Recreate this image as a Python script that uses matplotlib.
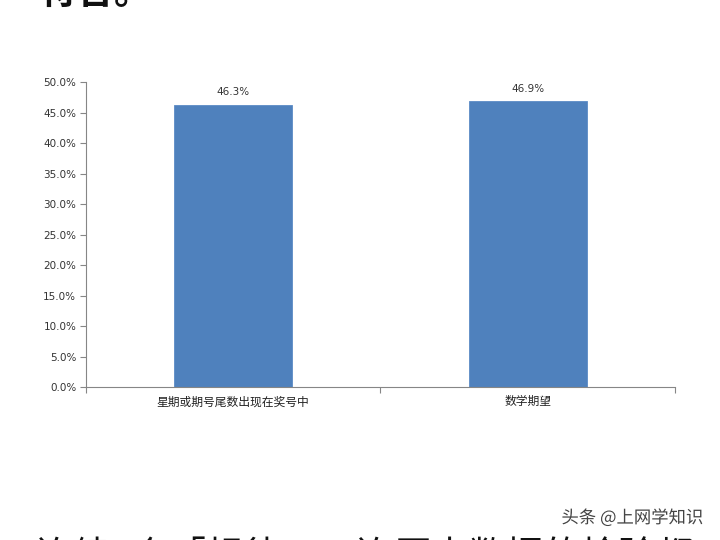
import matplotlib.pyplot as plt
import matplotlib.patheffects as pe
import numpy as np

plt.rcParams['font.family'] = ['Noto Sans CJK SC', 'DejaVu Sans']

# data
categories = ['星期或期号尾数出现在奖号中', '数学期望']
values = [46.3, 46.9]
yticks = np.arange(0, 55, 5)

top_text = '符合。'
bottom_text = '连续1个「规律」，连原本数据的检验都'
watermark = '头条 @上网学知识'

fig = plt.figure(figsize=(7.2, 5.4), dpi=100)
ax = fig.add_axes([0.1194, 0.2833, 0.818, 0.5648])

x = np.arange(len(categories))
bars = ax.bar(x, values, width=0.4, color='#4F81BD', edgecolor='#5B8BC6', linewidth=0.6)
for b, v in zip(bars, values):
    ax.text(b.get_x() + b.get_width() / 2, v + 1.2, f'{v:.1f}%', ha='center', va='bottom',
            fontsize=7.5, color='#333333', family='DejaVu Sans')

ax.set_xlim(-0.5, len(categories) - 0.5)
ax.set_ylim(0, 50)
ax.set_yticks(yticks)
ax.set_yticklabels([f'{t:.1f}%' for t in yticks], fontsize=7.5, color='#333333', family='DejaVu Sans')

# category boundaries as x ticks, labels as minor ticks
ax.set_xticks(np.arange(len(categories) + 1) - 0.5)
ax.set_xticklabels([])
ax.set_xticks(x, minor=True)
ax.set_xticklabels(categories, minor=True, fontsize=8.5, color='#222222')
ax.tick_params(axis='x', which='minor', length=0, pad=6)
ax.tick_params(axis='x', which='major', length=4, color='#868686', width=0.8)
ax.tick_params(axis='y', length=4, color='#868686', width=0.8, pad=3)

for s in ['top', 'right']:
    ax.spines[s].set_visible(False)
for s in ['left', 'bottom']:
    ax.spines[s].set_color('#868686')
    ax.spines[s].set_linewidth(0.8)

# surrounding page text (cut off at the edges like the screenshot)
fig.text(0.055, 1.05, top_text, fontsize=27, fontweight='bold', color='#111111',
         ha='left', va='top')
fig.text(0.05, -0.068, bottom_text, fontsize=27, color='#111111', ha='left', va='bottom')
fig.text(0.977, 0.024, watermark, fontsize=12.5, color='#444444', ha='right', va='bottom',
         path_effects=[pe.withStroke(linewidth=2, foreground='white')])

fig.savefig('out.png', dpi=100)
